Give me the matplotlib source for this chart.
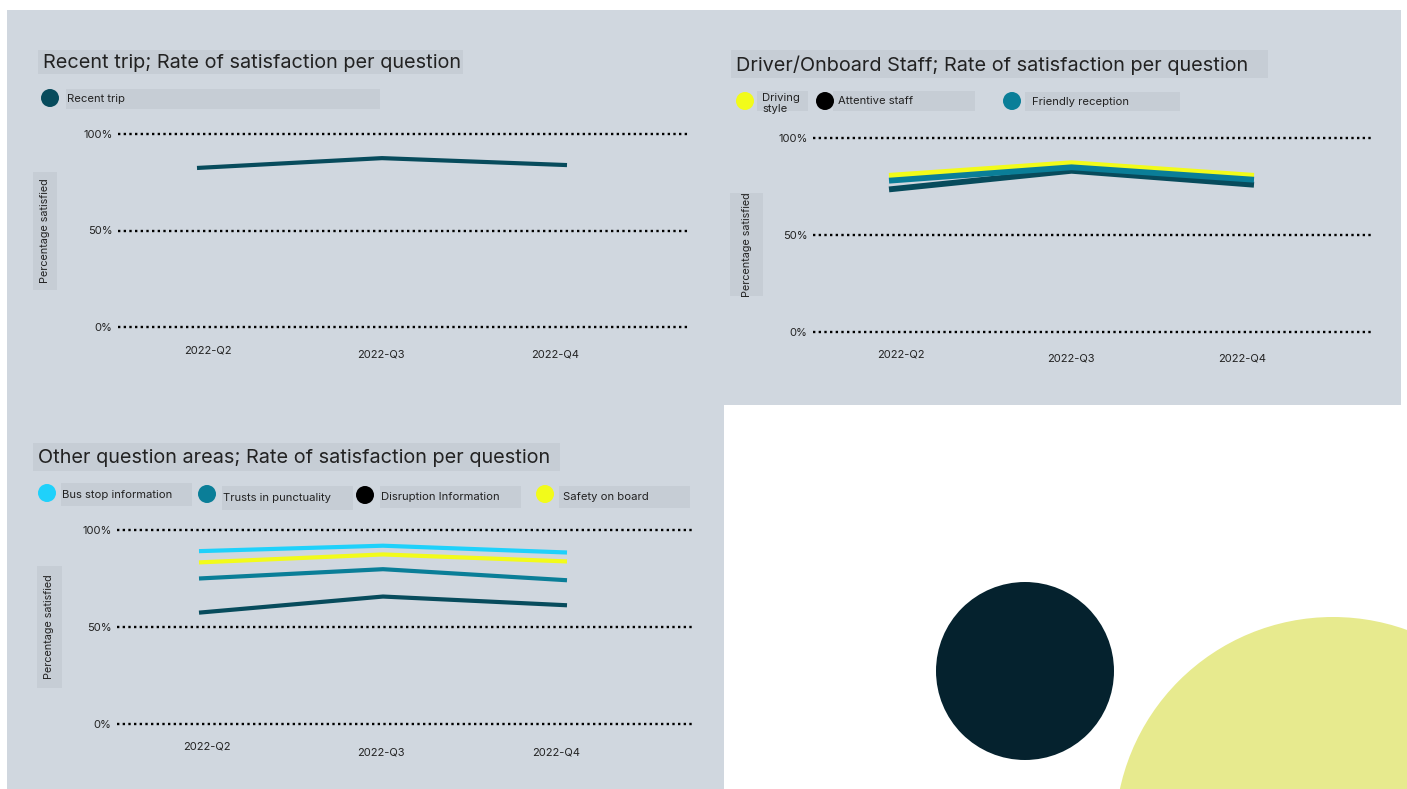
import matplotlib
matplotlib.use("Agg")
import matplotlib.pyplot as plt
from matplotlib.patches import Rectangle, Circle

# ---- data -------------------------------------------------------------
quarters = ["2022-Q2", "2022-Q3", "2022-Q4"]
y_ticks = [0, 50, 100]
y_tick_labels = ["0%", "50%", "100%"]

recent_trip = [82.4, 87.5, 83.9]

driving_style = [80.5, 87.0, 80.5]
attentive_staff = [73.5, 83.1, 75.9]
friendly_reception = [78.0, 84.9, 78.5]

bus_stop_info = [89.1, 91.9, 88.4]
trust_punctuality = [75.0, 79.8, 74.1]
disruption_info = [57.4, 65.7, 61.2]
safety_on_board = [83.3, 87.4, 83.8]

# ---- styling ------------------------------------------------------------
W, H = 1407, 789
PANEL = "#d0d7df"
BOX = "#c6cdd5"
DARK = "#074b5c"
TEAL = "#0a7e98"
YELLOW = "#f2fb1a"
CYAN = "#1fd1fb"
BLACK = "#000000"
TXT = "#222222"
FONT = ["Inter", "DejaVu Sans"]

plt.rcParams["font.family"] = FONT

fig = plt.figure(figsize=(W / 100, H / 100), dpi=100)
fig.patch.set_facecolor("white")

bg = fig.add_axes([0, 0, 1, 1])
bg.set_xlim(0, W)
bg.set_ylim(H, 0)
bg.axis("off")

# panel backgrounds
bg.add_patch(Rectangle((7, 10), 1394, 395, color=PANEL, lw=0))
bg.add_patch(Rectangle((7, 405), 717, 384, color=PANEL, lw=0))

# decorative circles
bg.add_patch(Circle((1025, 671), 89, color="#05222e", lw=0))
bg.add_patch(Circle((1333, 835), 218, color="#e7ea8e", lw=0))


def box(x0, y0, x1, y1):
    bg.add_patch(Rectangle((x0, y0), x1 - x0, y1 - y0, color=BOX, lw=0))


def title(x0, y0, x1, y1, text):
    box(x0, y0, x1, y1)
    bg.text(x0 + 5, (y0 + y1) / 2 + 1, text, fontsize=14.3, color=TXT,
            va="center", ha="left")


def legend_item(cx, cy, color, bx0, by0, bx1, by1, text, tx=None):
    box(bx0, by0, bx1, by1)
    bg.add_patch(Circle((cx, cy), 9, color=color, lw=0))
    return bg.text(tx if tx is not None else bx0 + 1, (by0 + by1) / 2, text,
                   fontsize=8.1, color=TXT, va="center", ha="left",
                   linespacing=1.1)


def ylabel_box(x0, y0, x1, y1):
    box(x0, y0, x1, y1)
    bg.text((x0 + x1) / 2, (y0 + y1) / 2, "Percentage satisfied",
            rotation=90, fontsize=7.8, color=TXT, va="center", ha="center")


def make_axes(x0, x1, ytop, ybot, cat0_px, cat2_px, xlab_offsets):
    ax = fig.add_axes([x0 / W, 1 - ybot / H, (x1 - x0) / W, (ybot - ytop) / H])
    ax.patch.set_alpha(0)
    unit = (cat2_px - cat0_px) / 2
    ax.set_xlim(-(cat0_px - x0) / unit, 2 + (x1 - cat2_px) / unit)
    ax.set_ylim(0, 100)
    for s in ax.spines.values():
        s.set_visible(False)
    ax.set_xticks([])
    ax.set_yticks(y_ticks)
    ax.set_yticklabels(y_tick_labels, fontsize=8, color=TXT)
    ax.tick_params(axis="y", length=0, pad=4)
    for v in y_ticks:
        ax.axhline(v, color=BLACK, lw=1.7, ls=(0, (1, 1.4)), clip_on=False,
                   zorder=1)
    for i, (q, (dx, dy)) in enumerate(zip(quarters, xlab_offsets)):
        ax.annotate(q, xy=(i, 0), xycoords="data", xytext=(dx, -dy),
                    textcoords="offset pixels", ha="center", va="center",
                    fontsize=8, color=TXT)
    return ax


# ---- panel 1: recent trip --------------------------------------------------
title(38, 50, 463, 74, "Recent trip; Rate of satisfaction per question")
legend_item(50, 98, DARK, 66, 89, 380, 109, "Recent trip")
ylabel_box(33, 172, 57, 290)
ax1 = make_axes(118, 690, 134, 327, 197, 567,
                [(11, 23), (-1, 28), (-12, 28)])
ax1.plot(range(3), recent_trip, color=DARK, lw=3.0, solid_capstyle="butt",
         zorder=3)

# ---- panel 2: driver / onboard staff --------------------------------------
title(731, 50, 1268, 78, "Driver/Onboard Staff; Rate of satisfaction per question")
t = legend_item(745, 101, YELLOW, 757, 91, 808, 111, "Driving\nstyle", tx=762)
t.set_va("top")
t.set_y(93)
legend_item(825, 101, BLACK, 833, 91, 975, 111, "Attentive staff", tx=838)
legend_item(1012, 101, TEAL, 1025, 92, 1180, 111, "Friendly reception",
            tx=1032)
ylabel_box(730, 193, 763, 296)
ax2 = make_axes(813, 1374, 138, 332, 889, 1254,
                [(12, 22), (-1, 27), (-12, 27)])
ax2.plot(range(3), driving_style, color=YELLOW, lw=4.2, solid_capstyle="butt",
         zorder=3)
ax2.plot(range(3), attentive_staff, color=DARK, lw=4.2, solid_capstyle="butt",
         zorder=4)
ax2.plot(range(3), friendly_reception, color=TEAL, lw=4.2,
         solid_capstyle="butt", zorder=5)

# ---- panel 3: other question areas ----------------------------------------
title(33, 443, 560, 471, "Other question areas; Rate of satisfaction per question")
legend_item(47, 493, CYAN, 61, 483, 192, 506, "Bus stop information")
legend_item(207, 494, TEAL, 222, 486, 353, 510, "Trusts in punctuality")
legend_item(365, 495, BLACK, 380, 486, 521, 508, "Disruption Information")
legend_item(545, 494, YELLOW, 559, 486, 690, 508, "Safety on board", tx=563)
ylabel_box(37, 566, 62, 688)
ax3 = make_axes(117, 692, 530, 724, 199, 567,
                [(8, 23), (-2, 28), (-11, 28)])
for series, color in [(bus_stop_info, CYAN), (safety_on_board, YELLOW),
                      (trust_punctuality, TEAL), (disruption_info, DARK)]:
    ax3.plot(range(3), series, color=color, lw=3.0, solid_capstyle="butt",
             zorder=3)

fig.savefig("out.png", dpi=100, facecolor=fig.get_facecolor())
